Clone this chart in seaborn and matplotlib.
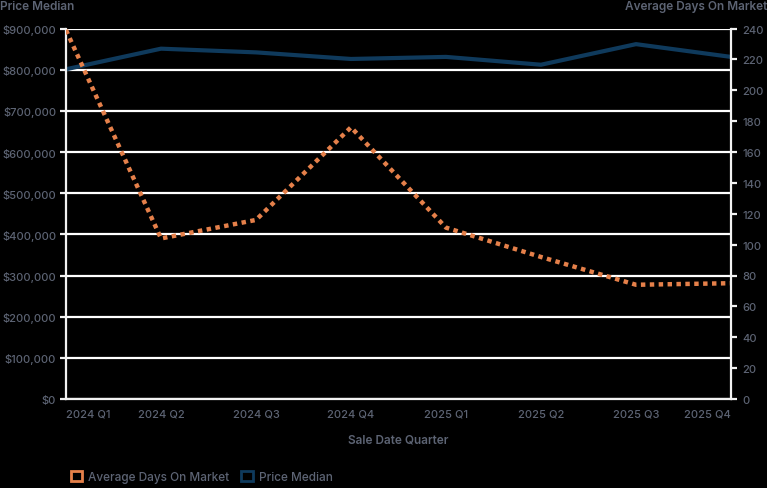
"""Price median vs average days on market by sale quarter (dual axis)."""

import matplotlib

matplotlib.use("Agg")

import matplotlib.pyplot as plt
import pandas as pd
import seaborn as sns
from matplotlib.patches import Patch
from matplotlib.ticker import FuncFormatter, MultipleLocator

quarters = ["2024 Q1", "2024 Q2", "2024 Q3", "2024 Q4",
            "2025 Q1", "2025 Q2", "2025 Q3", "2025 Q4"]
price_median = [801000, 851000, 842000, 826000, 831000, 812000, 862000, 831000]
avg_days = [239, 104, 116, 176, 111, 92, 74, 75]

NAVY = "#0f3a5c"
ORANGE = "#e5804a"
TEXT = "#5d6474"
LINE = "#f2f2f2"

sns.set_theme(style="white")
plt.rcParams["font.family"] = ["Inter", "DejaVu Sans"]
plt.rcParams["font.weight"] = "medium"

df = pd.DataFrame({"quarter": quarters, "price": price_median, "days": avg_days})

fig = plt.figure(figsize=(7.67, 4.89), dpi=100, facecolor="black")
ax = fig.add_axes([66 / 767, 89 / 489, 665 / 767, 370.5 / 489])
ax.set_facecolor("black")
ax2 = ax.twinx()

sns.lineplot(data=df, x="quarter", y="price", ax=ax, color=NAVY, linewidth=3,
             sort=False)
sns.lineplot(data=df, x="quarter", y="days", ax=ax2, color=ORANGE, linewidth=3.2,
             sort=False, linestyle=(0, (1, 1)))
ax2.lines[0].set_dash_capstyle("butt")

ax.set_xlim(0, len(quarters) - 1)
ax.set_ylim(0, 900000)
ax2.set_ylim(0, 240)
ax.yaxis.set_major_locator(MultipleLocator(100000))
ax2.yaxis.set_major_locator(MultipleLocator(20))
ax.yaxis.set_major_formatter(FuncFormatter(lambda v, _: f"${v:,.0f}"))

ax.grid(axis="y", color="white", linewidth=1.6)
ax.grid(axis="x", visible=False)
ax2.grid(False)
ax.set_axisbelow(True)

for a in (ax, ax2):
    for side, sp in a.spines.items():
        sp.set_visible(side in ("left", "bottom", "right"))
        sp.set_color(LINE)
        sp.set_linewidth(1.6)
    a.tick_params(colors=LINE, labelcolor=TEXT, labelsize=8, length=4, width=1.6)
ax.spines["right"].set_visible(False)
ax2.spines["left"].set_visible(False)
ax2.spines["bottom"].set_visible(False)
ax.tick_params(axis="y", pad=3)
ax.tick_params(axis="x", pad=3)
ax2.tick_params(axis="y", pad=4)

ax.set_xlabel("")
ax.set_ylabel("")
ax2.set_ylabel("")
ticklabels = ax.get_xticklabels()
ticklabels[0].set_horizontalalignment("left")
ticklabels[-1].set_horizontalalignment("right")

fig.text(0, 1 - 7 / 489, "Price Median", ha="left", va="center",
         color=TEXT, fontsize=8.5, fontweight="semibold")
fig.text(1, 1 - 7 / 489, "Average Days On Market", ha="right", va="center",
         color=TEXT, fontsize=8.5, fontweight="semibold")
fig.text(398 / 767, 1 - 441 / 489, "Sale Date Quarter", ha="center", va="center",
         color=TEXT, fontsize=8.5, fontweight="semibold")

handles = [
    Patch(facecolor="none", edgecolor=ORANGE, linewidth=2, label="Average Days On Market"),
    Patch(facecolor="none", edgecolor=NAVY, linewidth=2, label="Price Median"),
]
leg = fig.legend(handles=handles, loc="center left", bbox_to_anchor=(60 / 767, 1 - 478 / 489),
                 frameon=False, ncol=2, fontsize=8.5, handlelength=1.0, handleheight=1.0,
                 handletextpad=0.5, columnspacing=1.0)
for t in leg.get_texts():
    t.set_color(TEXT)

fig.savefig("out.png", dpi=100, facecolor="black")
